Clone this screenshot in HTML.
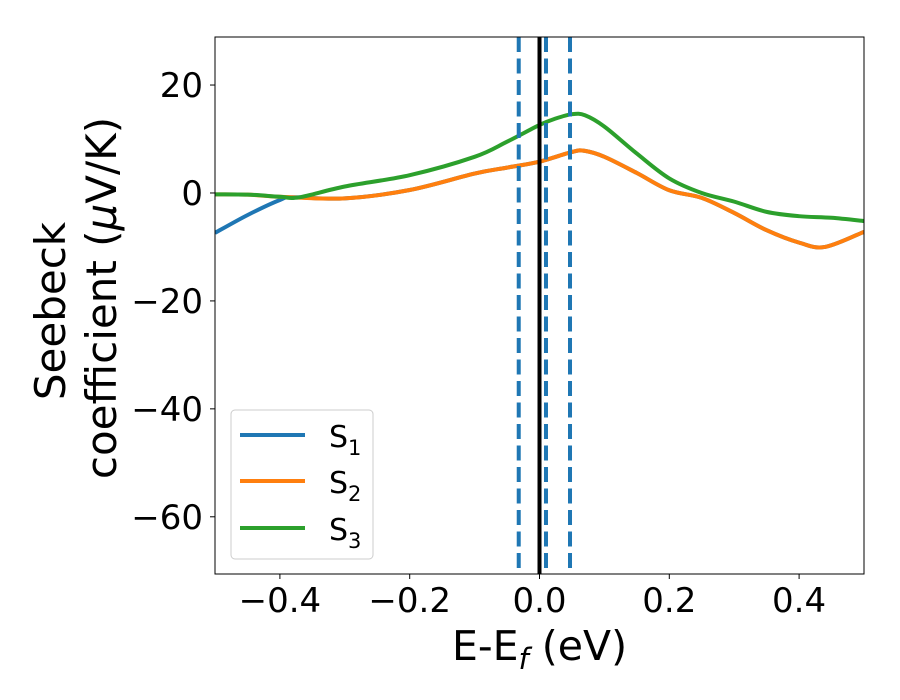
<!DOCTYPE html>
<html><head><meta charset="utf-8"><style>body{margin:0;background:#fff}svg{display:block;font-family:"DejaVu Sans","Liberation Sans",sans-serif}</style></head>
<body>
<svg id="chart" width="900" height="700">
<defs><clipPath id="clip"><rect x="215" y="37" width="649" height="537"/></clipPath></defs>
<g id="marks" clip-path="url(#clip)"></g>
<rect x="215" y="37" width="649" height="537" fill="none" stroke="#000" stroke-width="1"/>
<g id="axes"></g>
<text x="539.5" y="660" font-size="41" text-anchor="middle">E-E<tspan font-style="italic" font-size="29" dy="9">f</tspan><tspan dy="-9"> (eV)</tspan></text>
<text transform="translate(65,311) rotate(-90)" font-size="42" text-anchor="middle">Seebeck</text>
<text transform="translate(116,298) rotate(-90)" font-size="42" text-anchor="middle">coefficient  (<tspan font-style="italic">μ</tspan>V/K)</text>
<g>
<rect x="231" y="410" width="142" height="149" rx="4" fill="#fff" stroke="#ccc" stroke-width="1"/>
<line x1="240" y1="435" x2="305" y2="435" stroke="#1f77b4" stroke-width="4"/>
<text x="329" y="447" font-size="30">S<tspan font-size="21" dy="8">1</tspan></text>
<line x1="240" y1="481" x2="305" y2="481" stroke="#ff7f0e" stroke-width="4"/>
<text x="329" y="493" font-size="30">S<tspan font-size="21" dy="8">2</tspan></text>
<line x1="240" y1="528" x2="305" y2="528" stroke="#2ca02c" stroke-width="4"/>
<text x="329" y="540" font-size="30">S<tspan font-size="21" dy="8">3</tspan></text>
</g>
</svg>
<script>
const xTicks=[-0.4,-0.2,0.0,0.2,0.4];
const xTickLabels=["−0.4","−0.2","0.0","0.2","0.4"];
const yTicks=[20,0,-20,-40,-60];
const yTickLabels=["20","0","−20","−40","−60"];
const s1X=[-0.5,-0.45,-0.4,-0.38,-0.3,-0.2,-0.1,-0.05,0,0.05,0.07,0.1,0.15,0.2,0.25,0.3,0.35,0.4,0.44,0.5];
const s1Y=[-7.4,-4.1,-1.3,-0.8,-1.0,0.55,3.6,4.7,5.8,7.6,7.8,6.7,3.7,0.5,-0.9,-3.7,-6.9,-9.2,-10,-7.2];
const s2X=[-0.5,-0.45,-0.4,-0.3,-0.2,-0.1,-0.05,0,0.05,0.07,0.1,0.15,0.2,0.25,0.3,0.35,0.4,0.44,0.5];
const s2Y=[-0.25,-0.3,-0.7,-1.0,0.55,3.6,4.7,5.8,7.6,7.8,6.7,3.7,0.5,-0.9,-3.7,-6.9,-9.2,-10,-7.2];
const s3X=[-0.5,-0.45,-0.4,-0.37,-0.3,-0.2,-0.1,-0.05,0,0.025,0.05,0.07,0.1,0.15,0.2,0.25,0.3,0.35,0.4,0.45,0.5];
const s3Y=[-0.25,-0.3,-0.7,-0.8,1.2,3.3,6.7,9.5,12.6,13.8,14.6,14.4,12.3,7.3,2.7,0,-1.6,-3.5,-4.3,-4.6,-5.2];
const dashedX=[-0.032,0.010,0.047];
const fermiX=[0];
const xmin=-0.5,xmax=0.5,ymin=-70.6,ymax=28.9;
const L=215,R=864,T=37,B=574;
const sx=v=>L+(v-xmin)/(xmax-xmin)*(R-L);
const sy=v=>B-(v-ymin)/(ymax-ymin)*(B-T);
const NS="http://www.w3.org/2000/svg";
const marks=document.getElementById('marks'),axes=document.getElementById('axes');
function mk(tag,attrs,parent){const e=document.createElementNS(NS,tag);for(const k in attrs)e.setAttribute(k,attrs[k]);parent.appendChild(e);return e;}
function smooth(xs,ys){const p=xs.map((x,i)=>[sx(x),sy(ys[i])]);let d="M"+p[0][0]+","+p[0][1];
for(let i=0;i<p.length-1;i++){const p0=p[Math.max(i-1,0)],p1=p[i],p2=p[i+1],p3=p[Math.min(i+2,p.length-1)];
d+=" C"+(p1[0]+(p2[0]-p0[0])/6)+","+(p1[1]+(p2[1]-p0[1])/6)+" "+(p2[0]-(p3[0]-p1[0])/6)+","+(p2[1]-(p3[1]-p1[1])/6)+" "+p2[0]+","+p2[1];}return d;}
[[s1X,s1Y,"#1f77b4","series-s1"],[s2X,s2Y,"#ff7f0e","series-s2"],[s3X,s3Y,"#2ca02c","series-s3"]].forEach(s=>{
const el=mk('path',{d:smooth(s[0],s[1]),fill:"none",stroke:s[2],"stroke-width":4,"stroke-linejoin":"round"},marks);

});
fermiX.forEach(v=>{const el=mk('line',{x1:sx(v),x2:sx(v),y1:T,y2:B,stroke:"#000","stroke-width":4},marks);

});
dashedX.forEach(v=>{const el=mk('line',{x1:sx(v),x2:sx(v),y1:T,y2:B,stroke:"#1f77b4","stroke-width":4,"stroke-dasharray":"15,6.5"},marks);

});
xTicks.forEach((v,i)=>{const t=mk('line',{x1:sx(v),x2:sx(v),y1:B,y2:B+5,stroke:"#000","stroke-width":1},axes);


const tx=mk('text',{x:sx(v),y:B+38,"font-size":34,"text-anchor":"middle"},axes);tx.textContent=xTickLabels[i];

});
yTicks.forEach((v,i)=>{const t=mk('line',{x1:L-5,x2:L,y1:sy(v),y2:sy(v),stroke:"#000","stroke-width":1},axes);


const tx=mk('text',{x:L-12,y:sy(v)+12,"font-size":34,"text-anchor":"end"},axes);tx.textContent=yTickLabels[i];

});
</script>
</body></html>
